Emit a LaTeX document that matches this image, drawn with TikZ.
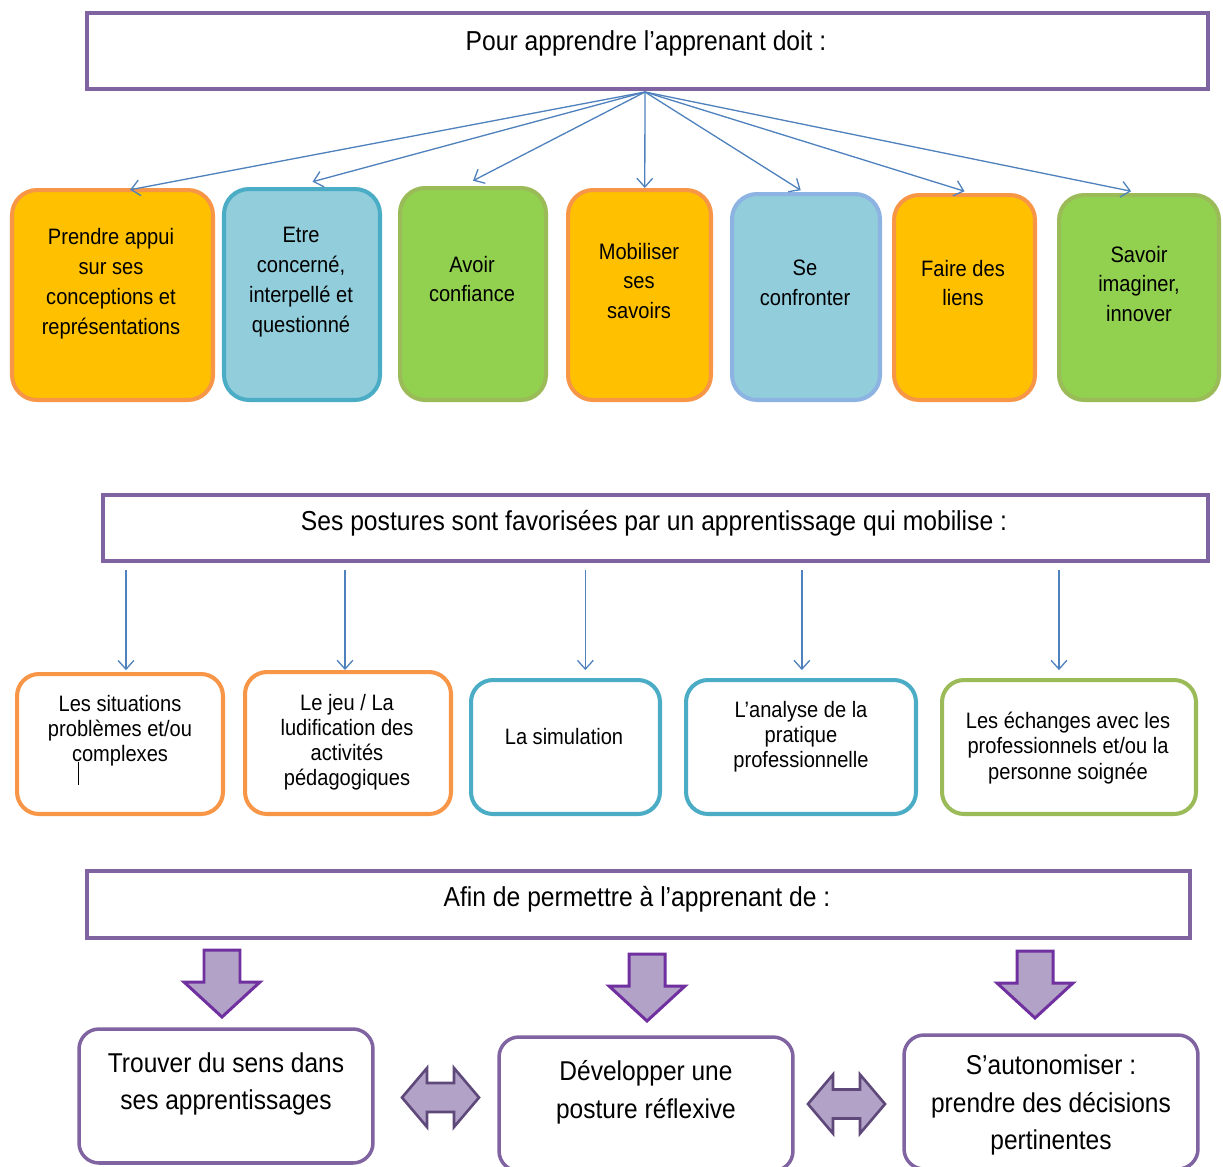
\documentclass[tikz,border=0pt]{standalone}
\usepackage{fontspec}
\setmainfont[FakeStretch=0.9]{Liberation Sans}
\usetikzlibrary{arrows.meta}
\definecolor{titleborder}{HTML}{8064A2}
\definecolor{fanblue}{HTML}{4F81BD}
\definecolor{orangeb}{HTML}{F79646}
\definecolor{goldf}{HTML}{FFC000}
\definecolor{aquaf}{HTML}{92CDDC}
\definecolor{aquab}{HTML}{4BACC6}
\definecolor{greenf}{HTML}{92D050}
\definecolor{greenb}{HTML}{9BBB59}
\definecolor{lblueb}{HTML}{8DB3E2}
\definecolor{lavf}{HTML}{B2A2C7}
\definecolor{purb}{HTML}{7030A0}
\definecolor{dpurb}{HTML}{5F497A}
\tikzset{
  titlebox/.style={draw=titleborder, line width=2.6pt, fill=white, rectangle, inner sep=0pt},
  topbox/.style={draw, line width=2.3pt, rectangle, rounded corners=0.5cm, inner sep=0pt},
  midbox/.style={draw, line width=2.3pt, fill=white, rectangle, rounded corners=0.44cm, inner sep=0pt},
  lowbox/.style={draw=titleborder, line width=2pt, fill=white, rectangle, rounded corners=0.4cm, inner sep=0pt, minimum width=5.88cm, minimum height=2.68cm},
  titletext/.style={font=\fontsize{15.6}{20}\selectfont, inner sep=0pt},
  toptext/.style={font=\fontsize{12.7}{17}\selectfont, align=center, inner sep=0pt},
  midtext/.style={font=\fontsize{12.7}{14.3}\selectfont, align=center, inner sep=0pt},
  lowtext/.style={font=\fontsize{15.5}{21.5}\selectfont, align=center, inner sep=0pt},
  fanarrow/.style={draw=fanblue, line width=0.75pt, -{Straight Barb[length=5pt,width=9pt,line width=0.75pt]}},
  blockv/.style={draw=purb, fill=lavf, line width=1.7pt, line join=miter},
  blockh/.style={draw=dpurb, fill=lavf, line width=1.5pt, line join=miter}
}
\begin{document}
\begin{tikzpicture}[x=0.02cm, y=-0.02cm]
\useasboundingbox (0,0) rectangle (1223,1166);
\clip (0,0) rectangle (1223,1166);
% ---------- top title ----------
\node[titlebox, minimum width=22.42cm, minimum height=1.52cm] (top) at (647.5,51) {};
\node[titletext] (toptxt) at (646,43) {Pour apprendre l’apprenant doit :};
\coordinate (fan) at (645,92);
% ---------- top row ----------
\node[topbox, draw=orangeb, fill=goldf, minimum width=4.02cm, minimum height=4.2cm] (b1) at (112.5,295) {};
\node[topbox, draw=aquab, fill=aquaf, minimum width=3.12cm, minimum height=4.22cm] (b2) at (302,294.5) {};
\node[topbox, draw=greenb, fill=greenf, minimum width=2.92cm, minimum height=4.24cm] (b3) at (473,294) {};
\node[topbox, draw=orangeb, fill=goldf, minimum width=2.86cm, minimum height=4.2cm] (b4) at (639.5,295) {};
\node[topbox, draw=lblueb, fill=aquaf, minimum width=2.96cm, minimum height=4.12cm] (b5) at (806,297) {};
\node[topbox, draw=orangeb, fill=goldf, minimum width=2.82cm, minimum height=4.1cm] (b6) at (964.5,297.5) {};
\node[topbox, draw=greenb, fill=greenf, minimum width=3.2cm, minimum height=4.1cm] (b7) at (1139,297.5) {};
\node[toptext] (t1) at (111,284) {Prendre appui\\sur ses\\conceptions et\\représentations};
\node[toptext] (t2) at (301,282) {Etre\\concerné,\\interpellé et\\questionné};
\node[toptext] (t3) at (472,279) {Avoir\\confiance};
\node[toptext] (t4) at (639,281) {Mobiliser\\ses\\savoirs};
\node[toptext] (t5) at (805,283) {Se\\confronter};
\node[toptext] (t6) at (963,283) {Faire des\\liens};
\node[toptext] (t7) at (1139,284) {Savoir\\imaginer,\\innover};
\draw[fanarrow] (fan) -- ([xshift=10pt,yshift=-1pt]b1.north);
\draw[fanarrow] (fan) -- ([xshift=6pt,yshift=3pt]b2.north);
\draw[fanarrow] (fan) -- ([yshift=3pt]b3.north);
\draw[fanarrow] (fan) -- ([xshift=3pt]b4.north);
\draw[fanarrow] (fan) -- ([xshift=-3pt,yshift=1pt]b5.north);
\draw[fanarrow] (fan) -- ([yshift=1pt]b6.north);
\draw[fanarrow] (fan) -- ([xshift=-4.5pt,yshift=1pt]b7.north);
% ---------- middle title ----------
\node[titlebox, minimum width=22.1cm, minimum height=1.32cm] (mid) at (655.5,528) {};
\node[titletext] (midtxt) at (654,523) {Ses postures sont favorisées par un apprentissage qui mobilise :};
% ---------- middle row ----------
\node[midbox, draw=orangeb, minimum width=4.12cm, minimum height=2.8cm] (s1) at (120,744) {};
\node[midbox, draw=orangeb, minimum width=4.12cm, minimum height=2.84cm] (s2) at (348,743) {};
\node[midbox, draw=aquab, minimum width=3.78cm, minimum height=2.68cm] (s3) at (565.5,747) {};
\node[midbox, draw=aquab, minimum width=4.6cm, minimum height=2.68cm] (s4) at (801,747) {};
\node[midbox, draw=greenb, minimum width=5.08cm, minimum height=2.68cm] (s5) at (1069,747) {};
\node[midtext] (u1) at (120,731) {Les situations\\problèmes et/ou\\complexes};
\node[midtext] (u2) at (347,742) {Le jeu / La\\ludification des\\activités\\pédagogiques};
\node[midtext] (u3) at (564,737) {La simulation};
\node[midtext] (u4) at (801,737) {L’analyse de la\\pratique\\professionnelle};
\node[midtext] (u5) at (1068,748) {Les échanges avec les\\professionnels et/ou la\\personne soignée};
\draw[black, line width=0.9pt] (78.5,762) -- (78.5,785);
\draw[fanarrow] ([xshift=3.4pt,yshift=-4pt]mid.south -| s1.north) -- ([xshift=3.4pt,yshift=1pt]s1.north);
\draw[fanarrow] ([xshift=-1.7pt,yshift=-4pt]mid.south -| s2.north) -- ([xshift=-1.7pt]s2.north);
\draw[fanarrow] ([xshift=11.3pt,yshift=-4pt]mid.south -| s3.north) -- ([xshift=11.3pt,yshift=4.5pt]s3.north);
\draw[fanarrow] ([xshift=0.5pt,yshift=-4pt]mid.south -| s4.north) -- ([xshift=0.5pt,yshift=4.5pt]s4.north);
\draw[fanarrow] ([xshift=-5.7pt,yshift=-4pt]mid.south -| s5.north) -- ([xshift=-5.7pt,yshift=4.5pt]s5.north);
% ---------- bottom title ----------
\node[titlebox, minimum width=22.06cm, minimum height=1.34cm] (low) at (638.5,904.5) {};
\node[titletext] (lowtxt) at (637,899) {Afin de permettre à l’apprenant de :};
% ---------- block down arrows ----------
\coordinate (d1) at (222,950);
\coordinate (d2) at (647,954);
\coordinate (d3) at (1035,951);
\foreach \d in {d1,d2,d3}{
  \draw[blockv] (\d) ++(-18,0) -- ++(36,0) -- ++(0,32) -- ++(20,0) -- ++(-38,35) -- ++(-38,-35) -- ++(20,0) -- cycle;
}
% ---------- bottom row ----------
\node[lowbox] (c1) at (226,1096) {};
\node[lowbox] (c2) at (646,1104) {};
\node[lowbox] (c3) at (1051,1102) {};
\node[lowtext] (v1) at (226,1084) {Trouver du sens dans\\ses apprentissages};
\node[lowtext] (v2) at (646,1092) {Développer une\\posture réflexive};
\node[lowtext] (v3) at (1051,1105) {S’autonomiser :\\prendre des décisions\\pertinentes};
% ---------- double arrows ----------
\coordinate (h1) at (440.5,1097.5);
\coordinate (h2) at (846.5,1104);
\foreach \h in {h1,h2}{
  \draw[blockh] (\h) ++(-38.5,0) -- ++(25,-29.5) -- ++(0,15) -- ++(27,0) -- ++(0,-15) -- ++(25,29.5) -- ++(-25,29.5) -- ++(0,-15) -- ++(-27,0) -- ++(0,15) -- cycle;
}
\end{tikzpicture}
\end{document}
